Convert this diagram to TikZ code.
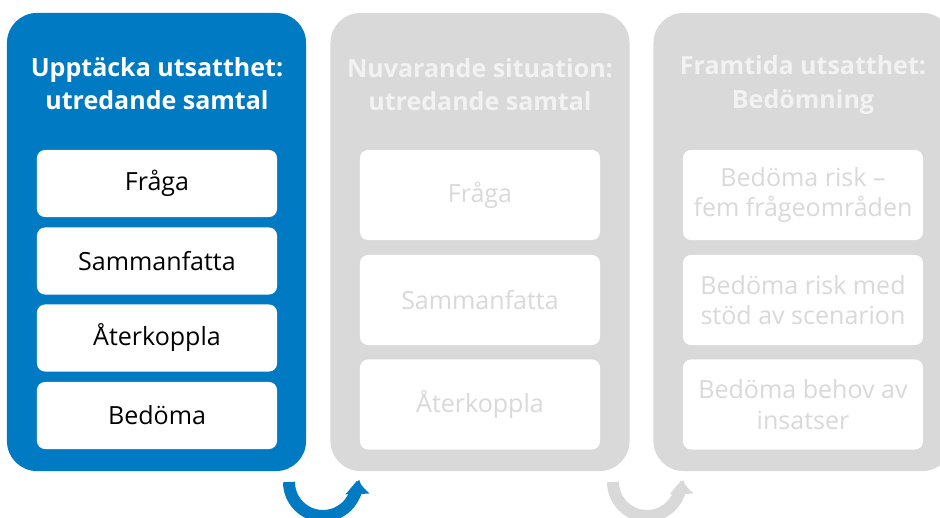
\documentclass[tikz,border=0pt]{standalone}
\usepackage{fontspec}
\setmainfont{Open Sans}
\usetikzlibrary{arrows.meta}
\definecolor{stepblue}{RGB}{0,122,194}
\definecolor{stepgray}{RGB}{217,217,217}
\definecolor{titlegray}{RGB}{242,242,242}
\begin{document}
\begin{tikzpicture}[x=0.025cm,y=-0.025cm,
	every node/.style={align=center,inner sep=0,font=\fontsize{17.8}{21.6}\selectfont},
	panel/.style={rounded corners=0.75cm,minimum width=7.475cm,minimum height=11.45cm},
	title/.style={font=\bfseries\fontsize{17.8}{23.5}\selectfont},
	item/.style={fill=white,rounded corners=0.2cm,minimum width=6cm},
	shortitem/.style={item,minimum height=1.675cm},
	tallitem/.style={item,minimum height=2.25cm,text=stepgray},
	turnarrow/.style={line width=0.3cm,-{Triangle[length=0.33cm,width=0.58cm]}}]
\useasboundingbox (0,0) rectangle (940,518);
\clip (0,0) rectangle (940,518);
% panels
\node[panel,fill=stepblue] (p1) at (156.5,242) {};
\node[panel,fill=stepgray] (p2) at (480,242) {};
\node[panel,fill=stepgray] (p3) at (803,242) {};
% titles
\node[title,text=white] (t1) at (157,84) {Upptäcka utsatthet:\\utredande samtal};
\node[title,text=titlegray] (t2) at (480,85) {Nuvarande situation:\\utredande samtal};
\node[title,text=titlegray] (t3) at (803,85) {Framtida utsatthet:\\Bedömning};
% steps
\node[shortitem] (a1) at (157,183.5) {Fråga};
\node[shortitem] (a2) at (157,261) {Sammanfatta};
\node[shortitem] (a3) at (157,338) {Återkoppla};
\node[shortitem] (a4) at (157,415.5) {Bedöma};
\node[tallitem] (b1) at (480,195) {Fråga};
\node[tallitem] (b2) at (480,300) {Sammanfatta};
\node[tallitem] (b3) at (480,404.5) {Återkoppla};
\node[tallitem] (c1) at (803,195) {Bedöma risk –\\fem frågeområden};
\node[tallitem] (c2) at (803,300) {Bedöma risk med\\stöd av scenarion};
\node[tallitem] (c3) at (803,404.5) {Bedöma behov av\\insatser};
% turn arrows
\coordinate (r1) at (289,482);
\coordinate (r2) at (613,482);
\draw[turnarrow,stepblue] (r1) arc[start angle=180,end angle=-2,radius=34];
\draw[turnarrow,stepgray] (r2) arc[start angle=180,end angle=-2,radius=34];
\end{tikzpicture}
\end{document}
